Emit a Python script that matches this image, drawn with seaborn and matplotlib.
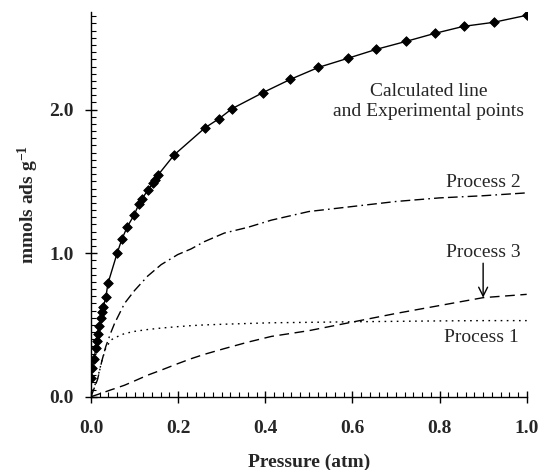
import matplotlib
matplotlib.use("Agg")
import matplotlib.pyplot as plt
from matplotlib.ticker import MultipleLocator, FormatStrFormatter
import seaborn as sns
import pandas as pd

# ---- data ----
exp_p = [0.001, 0.002, 0.007, 0.011, 0.014, 0.016, 0.018, 0.023, 0.025, 0.028,
         0.034, 0.039, 0.060, 0.071, 0.083, 0.099, 0.110, 0.117, 0.131, 0.143,
         0.147, 0.154, 0.191, 0.262, 0.294, 0.324, 0.395, 0.457, 0.522, 0.589,
         0.655, 0.724, 0.789, 0.855, 0.924, 1.000]
exp_v = [0.13, 0.20, 0.266, 0.336, 0.39, 0.44, 0.49, 0.545, 0.587, 0.622,
         0.692, 0.79, 1.00, 1.098, 1.182, 1.266, 1.343, 1.378, 1.441, 1.49,
         1.51, 1.545, 1.685, 1.874, 1.937, 2.007, 2.119, 2.21, 2.294, 2.357,
         2.42, 2.476, 2.531, 2.58, 2.608, 2.657]

calc_p = [0.0] + exp_p
calc_v = [0.0] + exp_v

proc_p = [0.0, 0.005, 0.01, 0.015, 0.025, 0.034, 0.046, 0.054, 0.077, 0.1, 0.13,
          0.161, 0.199, 0.23, 0.26, 0.306, 0.36, 0.414, 0.5, 0.6, 0.7, 0.8, 0.9, 1.0]
proc1 = [0.0, 0.05, 0.09, 0.13, 0.25, 0.34, 0.395, 0.41, 0.44, 0.455, 0.468,
         0.478, 0.488, 0.495, 0.50, 0.505, 0.51, 0.515, 0.518, 0.522, 0.525,
         0.528, 0.53, 0.53]
proc2 = [0.0, 0.04, 0.08, 0.12, 0.25, 0.35, 0.45, 0.51, 0.65, 0.74, 0.84, 0.92,
         0.99, 1.03, 1.08, 1.14, 1.18, 1.23, 1.29, 1.325, 1.36, 1.385, 1.40, 1.42]
proc3 = [0.0, 0.005, 0.01, 0.015, 0.026, 0.035, 0.048, 0.056, 0.08, 0.11, 0.15,
         0.185, 0.23, 0.265, 0.295, 0.335, 0.38, 0.42, 0.46, 0.52, 0.58, 0.635,
         0.69, 0.713]

x_ticks = [0.0, 0.2, 0.4, 0.6, 0.8, 1.0]
y_ticks = [0.0, 1.0, 2.0]

x_label = "Pressure (atm)"
y_label = r"mmols ads g$^{-1}$"
label_calc = "Calculated line\nand Experimental points"
label_p1 = "Process 1"
label_p2 = "Process 2"
label_p3 = "Process 3"

# ---- style ----
sns.set_style("ticks")
plt.rcParams["font.family"] = ["Liberation Serif", "DejaVu Serif"]
plt.rcParams["mathtext.fontset"] = "custom"
plt.rcParams["mathtext.rm"] = "Liberation Serif"
plt.rcParams["mathtext.it"] = "Liberation Serif"
plt.rcParams["mathtext.bf"] = "Liberation Serif:bold"
plt.rcParams["mathtext.default"] = "regular"

fig = plt.figure(figsize=(5.4, 4.7), dpi=100)
ax = fig.add_axes([91 / 540, 1 - 396.7 / 470, (526.7 - 91) / 540, (396.7 - 12) / 470])

df_calc = pd.DataFrame({"p": calc_p, "v": calc_v})
df_exp = pd.DataFrame({"p": exp_p, "v": exp_v})
df_proc = pd.DataFrame({"p": proc_p, "p1": proc1, "p2": proc2, "p3": proc3})

sns.lineplot(data=df_calc, x="p", y="v", ax=ax, color="black", lw=1.0,
             sort=False, estimator=None)
sns.lineplot(data=df_proc, x="p", y="p2", ax=ax, color="black", lw=1.0,
             sort=False, estimator=None, linestyle=(0, (7, 3, 7, 3, 1.2, 3)))
sns.lineplot(data=df_proc, x="p", y="p1", ax=ax, color="black", lw=1.0,
             sort=False, estimator=None, linestyle=(0, (1.2, 3.2)))
sns.lineplot(data=df_proc, x="p", y="p3", ax=ax, color="black", lw=1.0,
             sort=False, estimator=None, linestyle=(0, (7, 4)))
sns.scatterplot(data=df_exp, x="p", y="v", ax=ax, marker="D", s=24,
                color="black", edgecolor="black", linewidth=0.6, zorder=5)

ax.set_xlim(0, 1.0)
ax.set_ylim(0, 2.68)
ax.set_xticks(x_ticks)
ax.set_yticks(y_ticks)
ax.xaxis.set_major_formatter(FormatStrFormatter("%.1f"))
ax.yaxis.set_major_formatter(FormatStrFormatter("%.1f"))
ax.xaxis.set_minor_locator(MultipleLocator(0.02))
ax.yaxis.set_minor_locator(MultipleLocator(0.05))
ax.tick_params(which="major", direction="inout", length=9, width=1.0,
               labelsize=14, color="black")
ax.tick_params(axis="x", which="major", pad=12)
ax.tick_params(axis="y", which="major", pad=8)
ax.tick_params(which="minor", direction="in", length=3.5, width=0.8, color="black")
for lab in ax.get_xticklabels() + ax.get_yticklabels():
    lab.set_fontweight("bold")

sns.despine(ax=ax)
for s in ("left", "bottom"):
    ax.spines[s].set_linewidth(1.0)
    ax.spines[s].set_color("black")

ax.set_xlabel(x_label, fontsize=14, fontweight="bold", labelpad=12)
ax.set_ylabel(y_label, fontsize=14, fontweight="bold", labelpad=6)

ax.text(0.775, 2.057, label_calc, ha="center", va="center", fontsize=14,
        multialignment="center")
ax.text(0.986, 1.489, label_p2, ha="right", va="center", fontsize=14)
ax.text(0.986, 1.007, label_p3, ha="right", va="center", fontsize=14)
ax.text(0.982, 0.409, label_p1, ha="right", va="center", fontsize=14)
ax.annotate("", xy=(0.90, 0.69), xytext=(0.90, 0.93),
            arrowprops=dict(arrowstyle="->", color="black", lw=1.0,
                            mutation_scale=16, shrinkA=0, shrinkB=0))

fig.savefig("out.png", dpi=100)
